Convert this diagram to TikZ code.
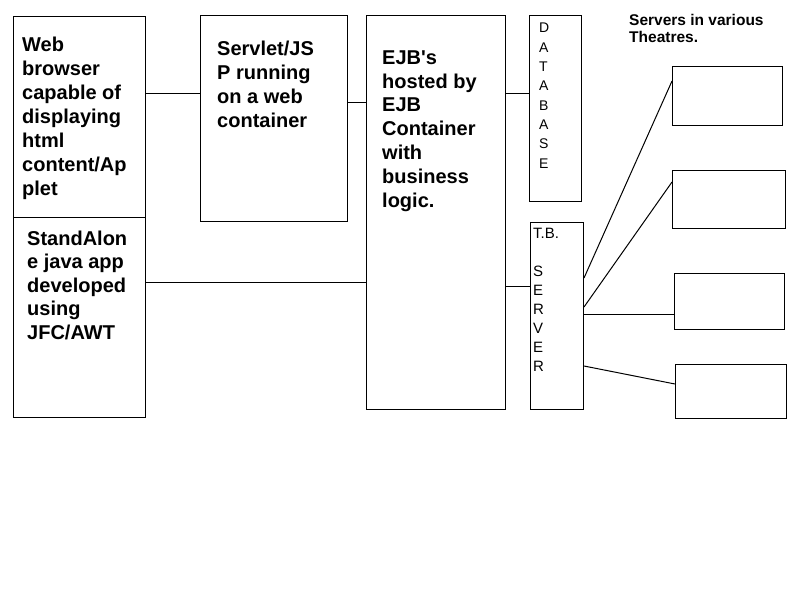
\documentclass[tikz,border=0pt]{standalone}
\usepackage{fontspec}
\setmainfont{Liberation Sans}[Ligatures=TeXOff]
\begin{document}
\begin{tikzpicture}[x=1pt,y=-1pt,
  box/.style={draw, line width=1pt, inner sep=0pt, anchor=north west},
  link/.style={line width=1pt},
  bigtxt/.style={anchor=base west, inner sep=0pt, align=left, font=\bfseries\fontsize{20}{24}\selectfont},
  lettertxt/.style={anchor=base west, inner sep=0pt, align=left, font=\fontsize{14}{19.3}\selectfont},
  tbtxt/.style={anchor=base west, inner sep=0pt, align=left, font=\fontsize{15}{19}\selectfont},
  notetxt/.style={anchor=base west, inner sep=0pt, align=left, font=\bfseries\fontsize{15.5}{17}\selectfont}]
\useasboundingbox[fill=white] (0,0) rectangle (800,600);
% boxes
\node[box, minimum width=132, minimum height=201] (web) at (13,16) {};
\node[box, minimum width=132, minimum height=200] (stand) at (13,217) {};
\node[box, minimum width=147, minimum height=206] (servlet) at (200,15) {};
\node[box, minimum width=139, minimum height=394] (ejb) at (366,15) {};
\node[box, minimum width=52, minimum height=186] (db) at (529,15) {};
\node[box, minimum width=53, minimum height=187] (tb) at (530,222) {};
\node[box, minimum width=110, minimum height=59] (s1) at (672,66) {};
\node[box, minimum width=113, minimum height=58] (s2) at (672,170) {};
\node[box, minimum width=110, minimum height=56] (s3) at (674,273) {};
\node[box, minimum width=111, minimum height=54] (s4) at (675,364) {};
% texts (anchored at the baseline of their last line)
\node[bigtxt] (webt) at (22,195) {Web\\browser\\capable of\\displaying\\html\\content/Ap\\plet};
\node[bigtxt, font=\bfseries\fontsize{20}{23.5}\selectfont] (standt) at (27,339) {StandAlon\\e java app\\developed\\using\\JFC/AWT};
\node[bigtxt] (servt) at (217,127) {Servlet/JS\\P running\\on a web\\container};
\node[bigtxt, font=\bfseries\fontsize{20}{23.8}\selectfont] (ejbt) at (382,207) {EJB's\\hosted by\\EJB\\Container\\with\\business\\logic.};
\node[lettertxt] (dbt) at (539,168) {D\\A\\T\\A\\B\\A\\S\\E};
\node[tbtxt] (tbt) at (533,371) {T.B.\\[19pt]S\\E\\R\\V\\E\\R};
\node[notetxt] (note) at (629,42) {Servers in various\\Theatres.};
% connectors
\draw[link] (web.east |- 0,93) -- (servlet.west |- 0,93);
\draw[link] (servlet.east |- 0,102) -- (ejb.west |- 0,102);
\draw[link] (stand.east |- 0,282) -- (ejb.west |- 0,282);
\draw[link] (ejb.east |- 0,93) -- (db.west |- 0,93);
\draw[link] (ejb.east |- 0,286) -- (tb.west |- 0,286);
\draw[link] (tb.east |- 0,278) -- (s1.west |- 0,81);
\draw[link] (tb.east |- 0,307) -- (s2.west |- 0,182);
\draw[link] (tb.east |- 0,314) -- (s3.west |- 0,314);
\draw[link] (tb.east |- 0,366) -- (s4.west |- 0,384);
\end{tikzpicture}
\end{document}
